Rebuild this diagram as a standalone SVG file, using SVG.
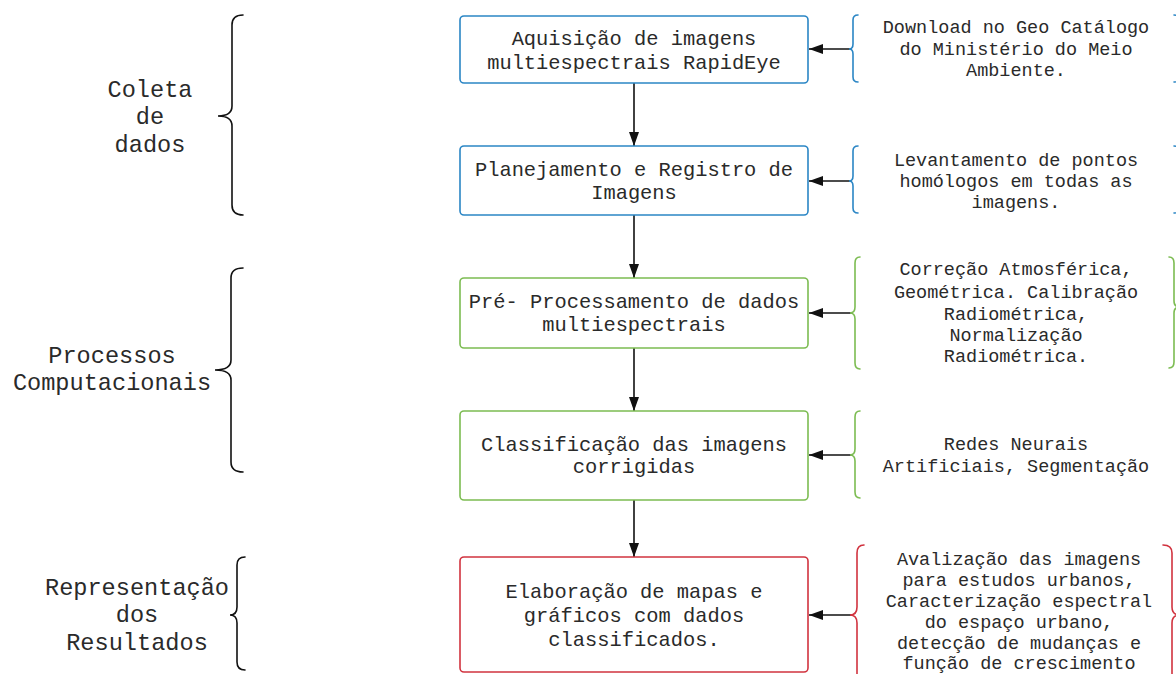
<svg xmlns="http://www.w3.org/2000/svg" width="1176" height="674" viewBox="0 0 1176 674">
<style>
.box{fill:#fff;stroke-width:1.6}
.blue{stroke:#2b86c5}
.green{stroke:#7cbc52}
.red{stroke:#d1333f}
.br{fill:none;stroke-width:1.6;stroke-linecap:round}
.lb{fill:none;stroke:#111;stroke-width:1.6;stroke-linecap:round}
.t{font-family:"Liberation Mono",monospace;fill:#2a2a2a;text-anchor:middle}
.bt{font-size:20.4px}
.st{font-size:18.5px}
.gt{font-size:23.6px}
.con{stroke:#111;stroke-width:1.6;fill:none}
</style>
<defs>
<marker id="ah" markerUnits="userSpaceOnUse" markerWidth="16" markerHeight="12" refX="14" refY="5" orient="auto">
<path d="M0,0 L14,5 L0,10 z" fill="#111"/>
</marker>
</defs>
<rect width="1176" height="674" fill="#fff"/>

<g id="group-coleta">
<path class="lb" d="M243,15 Q232,15 232,25 L232,106 Q232,116 218,116 Q232,116 232,126 L232,205 Q232,215 243,215"/>
<text class="t gt" x="150" y="97">Coleta</text>
<text class="t gt" x="150" y="124">de</text>
<text class="t gt" x="150" y="152">dados</text>
</g>
<g id="group-processos">
<path class="lb" d="M243,268 Q231,268 231,278 L231,360 Q231,370 215,370 Q231,370 231,380 L231,462 Q231,472 243,472"/>
<text class="t gt" x="112" y="363">Processos</text>
<text class="t gt" x="112" y="390">Computacionais</text>
</g>
<g id="group-representacao">
<path class="lb" d="M245,557 Q237,557 237,565 L237,607 Q237,615 230,615 Q237,615 237,623 L237,662 Q237,670 245,670"/>
<text class="t gt" x="137" y="595">Representação</text>
<text class="t gt" x="137" y="622">dos</text>
<text class="t gt" x="137" y="650">Resultados</text>
</g>

<g id="connectors">
<line class="con" x1="634" y1="83" x2="634" y2="146" marker-end="url(#ah)"/>
<line class="con" x1="634" y1="215" x2="634" y2="278" marker-end="url(#ah)"/>
<line class="con" x1="634" y1="348" x2="634" y2="411" marker-end="url(#ah)"/>
<line class="con" x1="634" y1="500" x2="634" y2="557" marker-end="url(#ah)"/>
<line class="con" x1="852" y1="49" x2="809" y2="49" marker-end="url(#ah)"/>
<line class="con" x1="852" y1="181" x2="809" y2="181" marker-end="url(#ah)"/>
<line class="con" x1="853" y1="313" x2="809" y2="313" marker-end="url(#ah)"/>
<line class="con" x1="853" y1="455" x2="809" y2="455" marker-end="url(#ah)"/>
<line class="con" x1="853" y1="615" x2="809" y2="615" marker-end="url(#ah)"/>
</g>

<g id="n1">
<rect class="box blue" x="460" y="16" width="348" height="67" rx="4"/>
<text class="t bt" x="634" y="45">Aquisição de imagens</text>
<text class="t bt" x="634" y="69">multiespectrais RapidEye</text>
</g>
<g id="n2">
<rect class="box blue" x="460" y="146" width="348" height="69" rx="4"/>
<text class="t bt" x="634" y="176">Planejamento e Registro de</text>
<text class="t bt" x="634" y="199">Imagens</text>
</g>
<g id="n3">
<rect class="box green" x="460" y="278" width="348" height="70" rx="4"/>
<text class="t bt" x="634" y="308">Pré- Processamento de dados</text>
<text class="t bt" x="634" y="331">multiespectrais</text>
</g>
<g id="n4">
<rect class="box green" x="460" y="411" width="348" height="89" rx="4"/>
<text class="t bt" x="634" y="451">Classificação das imagens</text>
<text class="t bt" x="634" y="473">corrigidas</text>
</g>
<g id="n5">
<rect class="box red" x="460" y="557" width="348" height="115" rx="4"/>
<text class="t bt" x="634" y="598">Elaboração de mapas e</text>
<text class="t bt" x="634" y="622">gráficos com dados</text>
<text class="t bt" x="634" y="646">classificados.</text>
</g>

<g id="s1">
<path class="br blue" d="M858,15 Q853,15 853,20 L853,44 Q853,49 849,49 Q853,49 853,54 L853,77 Q853,82 858,82"/>
<path class="br blue" d="M1174,15 Q1179,15 1179,20 L1179,77 Q1179,82 1174,82"/>
<text class="t st" x="1016" y="33">Download no Geo Catálogo</text>
<text class="t st" x="1016" y="55">do Ministério do Meio</text>
<text class="t st" x="1016" y="76">Ambiente.</text>
</g>
<g id="s2">
<path class="br blue" d="M858,146 Q853,146 853,151 L853,176 Q853,181 849,181 Q853,181 853,186 L853,208 Q853,213 858,213"/>
<path class="br blue" d="M1174,146 Q1179,146 1179,151 L1179,208 Q1179,213 1174,213"/>
<text class="t st" x="1016" y="166">Levantamento de pontos</text>
<text class="t st" x="1016" y="187">homólogos em todas as</text>
<text class="t st" x="1016" y="208">imagens.</text>
</g>
<g id="s3">
<path class="br green" d="M860,257 Q855,257 855,263 L855,307 Q855,313 850,313 Q855,313 855,319 L855,363 Q855,369 860,369"/>
<path class="br green" d="M1169,257 Q1174,257 1174,263 L1174,301 Q1174,307 1180,307 Q1174,307 1174,313 L1174,362 Q1174,368 1169,368"/>
<text class="t st" x="1016" y="275">Correção Atmosférica,</text>
<text class="t st" x="1016" y="298">Geométrica. Calibração</text>
<text class="t st" x="1016" y="320">Radiométrica,</text>
<text class="t st" x="1016" y="341">Normalização</text>
<text class="t st" x="1016" y="362">Radiométrica.</text>
</g>
<g id="s4">
<path class="br green" d="M860,411 Q855,411 855,417 L855,449 Q855,455 850,455 Q855,455 855,461 L855,492 Q855,498 860,498"/>
<text class="t st" x="1016" y="450">Redes Neurais</text>
<text class="t st" x="1016" y="472">Artificiais, Segmentação</text>
</g>
<g id="s5">
<path class="br red" d="M864,545 Q857,545 857,553 L857,607 Q857,615 850,615 Q857,615 857,623 L857,677 Q857,685 864,685"/>
<path class="br red" d="M1163,545 Q1172,545 1172,553 L1172,607 Q1172,615 1180,615 Q1172,615 1172,623 L1172,677 Q1172,685 1163,685"/>
<text class="t st" x="1019" y="565">Avalização das imagens</text>
<text class="t st" x="1019" y="586">para estudos urbanos,</text>
<text class="t st" x="1019" y="607">Caracterização espectral</text>
<text class="t st" x="1019" y="628">do espaço urbano,</text>
<text class="t st" x="1019" y="649">detecção de mudanças e</text>
<text class="t st" x="1019" y="669">função de crescimento</text>
</g>
</svg>
